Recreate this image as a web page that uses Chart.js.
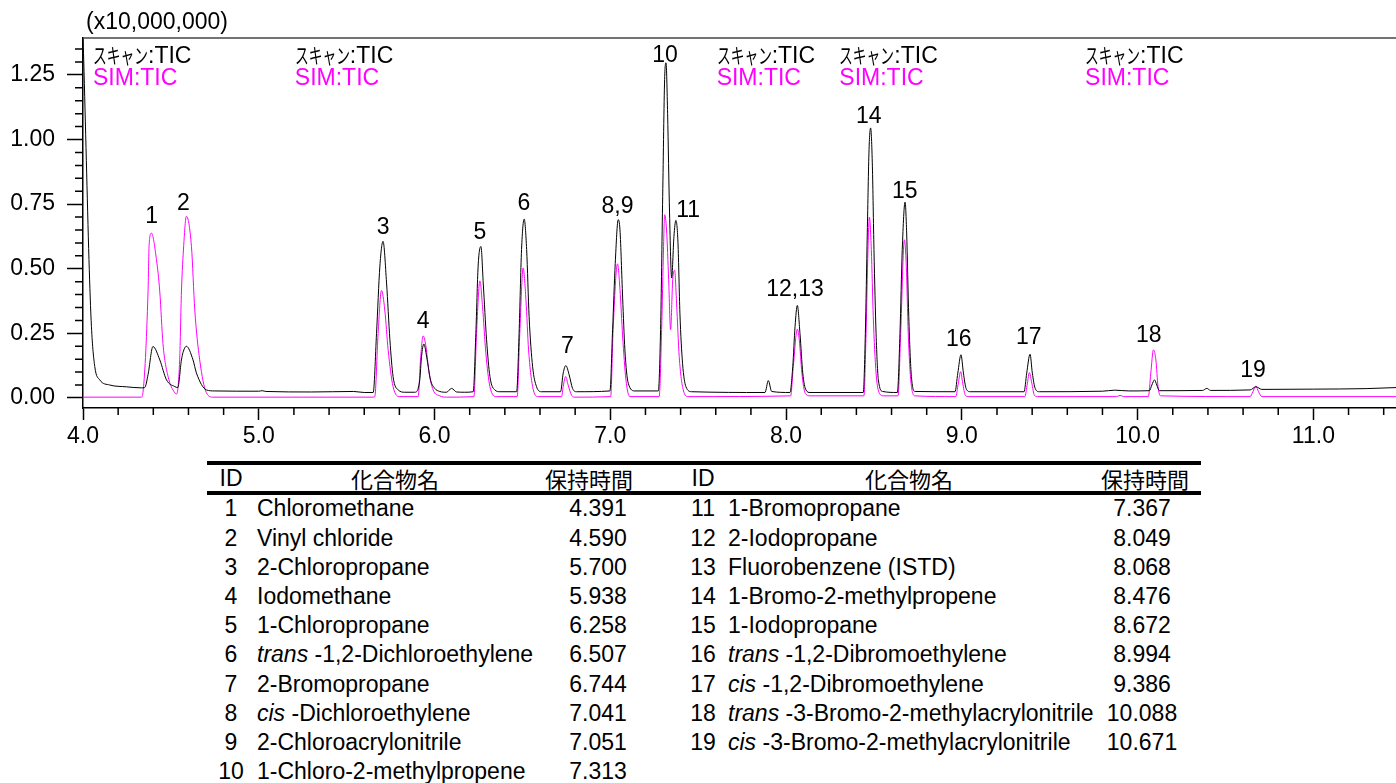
<!DOCTYPE html>
<html>
<head>
<meta charset="utf-8">
<script src="https://cdn.jsdelivr.net/npm/chart.js@4.4.1/dist/chart.umd.min.js"></script>
<style>
html,body{margin:0;padding:0;background:#fff;}
body{width:1396px;height:783px;position:relative;overflow:hidden;font-family:'Liberation Sans',Arial,'Noto Sans CJK JP',sans-serif;color:#000;}
#wrap{position:absolute;left:0;top:0;width:1396px;height:455px;}
.t{position:absolute;font-size:23px;line-height:1;white-space:nowrap;}
.cc{transform:translate(-50%,-50%);}
.lc{transform:translateY(-50%);}
.kana{display:inline-block;font-family:'Noto Sans CJK JP';font-size:21px;line-height:1;transform-origin:0 50%;}
.cjk{font-family:'Noto Sans CJK JP';font-size:22px;}
.rule{position:absolute;background:#000;}
.sim{color:#ff00ff;}
</style>
</head>
<body>
<div id="wrap"><canvas id="c" width="1396" height="455"></canvas></div>
<div id="overlay"></div>
<script>
// ---------------- data ----------------
// Scan TIC (black), time in min, intensity in x10,000,000
const scanTime = [4.000,4.004,4.019,4.034,4.048,4.067,4.095,4.152,4.247,4.332,4.351,4.370,4.398,4.437,4.475,4.522,4.539,4.560,4.569,4.588,4.626,4.645,4.702,4.750,5.000,5.020,5.040,5.300,5.540,5.600,
  5.651,5.670,5.689,5.707,5.727,5.746,5.764,5.793,5.831,5.888,5.916,5.926,5.939,5.958,5.977,6.001,6.030,6.068,6.097,6.125,6.172,
  6.220,6.235,6.248,6.264,6.277,6.296,6.315,6.343,6.372,6.467,6.481,6.495,6.510,6.524,6.538,6.558,6.580,6.609,
  6.717,6.732,6.747,6.766,6.785,6.808,6.998,7.013,7.028,7.045,7.055,7.070,7.083,7.102,7.140,
  7.273,7.286,7.298,7.309,7.317,7.326,7.337,7.349,7.362,7.373,7.385,7.396,7.411,7.430,7.463,
  7.880,7.899,7.918,8.022,8.038,8.051,8.064,8.079,8.095,8.113,8.136,
  8.439,8.451,8.462,8.472,8.481,8.491,8.500,8.512,8.525,8.550,8.633,8.648,8.661,8.677,8.686,8.698,8.713,8.734,
  8.961,8.977,8.995,9.009,9.024,9.047,9.354,9.369,9.388,9.401,9.417,9.441,9.800,9.870,9.950,
  10.067,10.081,10.096,10.109,10.124,10.370,10.394,10.415,10.640,10.673,10.707,11.000,11.300,11.470];
const scanValue = [1.40,1.31,0.92,0.535,0.276,0.121,0.070,0.050,0.043,0.039,0.040,0.090,0.199,0.147,0.070,0.044,0.040,0.147,0.176,0.200,0.147,0.097,0.031,0.027,0.026,0.028,0.025,0.023,0.025,0.021,
  0.021,0.250,0.510,0.606,0.445,0.225,0.083,0.031,0.022,0.022,0.070,0.160,0.209,0.147,0.070,0.037,0.025,0.022,0.037,0.023,0.022,
  0.024,0.250,0.510,0.586,0.445,0.225,0.083,0.031,0.024,0.024,0.250,0.574,0.692,0.574,0.315,0.121,0.044,0.024,
  0.024,0.096,0.125,0.089,0.037,0.024,0.027,0.264,0.520,0.690,0.650,0.390,0.186,0.057,0.027,
  0.027,0.264,0.780,1.233,1.297,1.100,0.716,0.464,0.625,0.687,0.600,0.328,0.134,0.044,0.024,
  0.021,0.067,0.025,0.021,0.121,0.276,0.358,0.250,0.096,0.031,0.021,
  0.021,0.250,0.638,0.961,1.045,0.897,0.574,0.250,0.070,0.025,0.021,0.250,0.574,0.758,0.638,0.315,0.083,0.025,
  0.024,0.096,0.167,0.096,0.037,0.024,0.024,0.096,0.169,0.096,0.037,0.024,0.026,0.030,0.027,
  0.028,0.050,0.070,0.050,0.028,0.029,0.037,0.029,0.031,0.043,0.033,0.034,0.036,0.040];

// SIM TIC (magenta)
const simTime = [4.000,4.332,4.341,4.370,4.376,4.389,4.418,4.437,4.455,4.484,4.522,4.532,4.550,4.560,4.573,4.588,4.617,4.636,4.664,4.702,4.740,
  5.650,5.660,5.679,5.698,5.717,5.736,5.764,5.803,5.907,5.920,5.935,5.951,5.969,5.992,6.030,6.068,
  6.224,6.239,6.258,6.273,6.292,6.315,6.353,6.470,6.485,6.504,6.520,6.535,6.558,6.590,
  6.723,6.732,6.746,6.760,6.780,6.799,7.002,7.016,7.041,7.055,7.070,7.089,7.111,
  7.278,7.292,7.303,7.309,7.320,7.332,7.343,7.355,7.366,7.377,7.392,7.415,7.443,
  8.026,8.041,8.064,8.075,8.090,8.109,8.136,8.443,8.455,8.466,8.474,8.485,8.496,8.512,8.531,8.553,
  8.637,8.652,8.673,8.684,8.695,8.711,8.734,8.965,8.980,8.993,9.005,9.020,9.040,9.358,9.373,9.384,9.398,9.413,9.430,
  9.880,9.900,9.920,10.061,10.075,10.090,10.104,10.116,10.131,10.640,10.656,10.673,10.688,10.707,11.470];
const simValue = [0.003,0.003,0.020,0.410,0.590,0.638,0.535,0.410,0.210,0.083,0.020,0.015,0.147,0.410,0.590,0.703,0.586,0.340,0.147,0.020,0.003,
  0.003,0.005,0.250,0.416,0.340,0.186,0.044,0.005,0.005,0.147,0.240,0.200,0.097,0.031,0.008,0.003,
  0.005,0.250,0.453,0.354,0.173,0.044,0.005,0.005,0.250,0.503,0.380,0.186,0.044,0.005,
  0.005,0.044,0.083,0.050,0.010,0.003,0.005,0.264,0.519,0.420,0.240,0.070,0.005,
  0.005,0.264,0.586,0.709,0.650,0.457,0.264,0.457,0.494,0.367,0.160,0.031,0.005,
  0.008,0.121,0.266,0.225,0.096,0.018,0.008,0.008,0.250,0.574,0.700,0.574,0.315,0.096,0.018,0.008,
  0.008,0.250,0.612,0.510,0.250,0.057,0.008,0.005,0.057,0.102,0.057,0.010,0.005,0.005,0.057,0.098,0.057,0.010,0.005,
  0.005,0.010,0.005,0.005,0.096,0.186,0.147,0.044,0.008,0.005,0.024,0.046,0.024,0.005,0.005];

// Peak labels (anchored in data units)
const peakLabelText  = ['1','2','3','4','5','6','7','8,9','10','11','12,13','14','15','16','17','18','19'];
const peakLabelTime  = [4.391,4.571,5.707,5.935,6.258,6.509,6.756,7.041,7.311,7.443,8.051,8.470,8.675,8.982,9.381,10.064,10.657];
const peakLabelValue = [0.709,0.757,0.667,0.300,0.645,0.760,0.205,0.748,1.331,0.732,0.425,1.094,0.804,0.231,0.241,0.249,0.112];

// Acquisition segment labels
const segmentTime = [4.057,5.205,7.605,8.303,9.701];
const scanLabel = 'スキャン';
const scanSuffix = ':TIC';
const simLabel = 'SIM:TIC';
const yUnitLabel = '(x10,000,000)';

// Axis
const xMin = 4.0, xMax = 11.47, xStep = 0.2, xMajor = 1.0;
const yMin = -0.039, yMax = 1.393, yStep = 0.05, yMajor = 0.25;

// Table
const tableHeader = ['ID','化合物名','保持時間'];
const compoundId = [1,2,3,4,5,6,7,8,9,10,11,12,13,14,15,16,17,18,19];
const compoundName = ['Chloromethane','Vinyl chloride','2-Chloropropane','Iodomethane','1-Chloropropane',
  'trans-1,2-Dichloroethylene','2-Bromopropane','cis-Dichloroethylene','2-Chloroacrylonitrile','1-Chloro-2-methylpropene',
  '1-Bromopropane','2-Iodopropane','Fluorobenzene (ISTD)','1-Bromo-2-methylpropene','1-Iodopropane',
  'trans-1,2-Dibromoethylene','cis-1,2-Dibromoethylene','trans-3-Bromo-2-methylacrylonitrile','cis-3-Bromo-2-methylacrylonitrile'];
const retentionTime = ['4.391','4.590','5.700','5.938','6.258','6.507','6.744','7.041','7.051','7.313',
  '7.367','8.049','8.068','8.476','8.672','8.994','9.386','10.088','10.671'];

// ---------------- chart ----------------
const isMajorX = v => Math.abs(v/xMajor - Math.round(v/xMajor)) < 1e-6;
const isMajorY = v => Math.abs(v/yMajor - Math.round(v/yMajor)) < 1e-6;

const minorTicks = {
  id:'minorTicks',
  afterDraw(chart){
    const ctx = chart.ctx, xs = chart.scales.x, ys = chart.scales.y, a = chart.chartArea;
    ctx.save();
    ctx.strokeStyle = '#000'; ctx.lineWidth = 1.5;
    ctx.beginPath();
    xs.ticks.forEach(t => { if(!isMajorX(t.value)){ const p = xs.getPixelForValue(t.value); ctx.moveTo(p,a.bottom); ctx.lineTo(p,a.bottom+7);} });
    ys.ticks.forEach(t => { if(!isMajorY(t.value)){ const p = ys.getPixelForValue(t.value); ctx.moveTo(a.left,p); ctx.lineTo(a.left-8,p);} });
    ctx.stroke();
    ctx.strokeStyle = '#444'; ctx.lineWidth = 1.5;
    ctx.beginPath(); ctx.moveTo(a.left, a.top); ctx.lineTo(a.right, a.top); ctx.stroke();
    ctx.restore();
  }
};

const toXY = (ts, vs) => ts.map((t,i) => ({x:t, y:vs[i]}));

const chart = new Chart(document.getElementById('c'), {
  type:'line',
  data:{datasets:[
    {label:'Scan TIC', data:toXY(scanTime, scanValue), borderColor:'#000', borderWidth:1, order:0},
    {label:'SIM TIC', data:toXY(simTime, simValue), borderColor:'#ff00ff', borderWidth:1, order:1}
  ]},
  options:{
    responsive:false, animation:false, events:[],
    layout:{padding:{top:38,left:0,right:0,bottom:0}},
    plugins:{legend:{display:false}, tooltip:{enabled:false}},
    elements:{point:{radius:0}, line:{cubicInterpolationMode:'monotone'}},
    scales:{
      x:{type:'linear', min:xMin, max:xMax,
        afterFit(s){ s.height = 455-408; },
        border:{color:'#000', width:1.5},
        grid:{drawOnChartArea:false, tickLength:12, tickWidth:1.5,
          tickColor: c => isMajorX(c.tick.value) ? '#000' : 'rgba(0,0,0,0)'},
        ticks:{stepSize:xStep, includeBounds:false, autoSkip:false, maxRotation:0, padding:3, color:'#000',
          font:{family:"'Liberation Sans', Arial, sans-serif", size:23},
          callback: v => isMajorX(v) ? Number(v).toFixed(1) : ''}
      },
      y:{type:'linear', min:yMin, max:yMax,
        afterFit(s){ s.width = 83; },
        border:{color:'#000', width:1.5},
        grid:{drawOnChartArea:false, tickLength:16, tickWidth:1.5,
          tickColor: c => isMajorY(c.tick.value) ? '#000' : 'rgba(0,0,0,0)'},
        ticks:{stepSize:yStep, includeBounds:false, autoSkip:false, padding:12, color:'#000',
          font:{family:"'Liberation Sans', Arial, sans-serif", size:23},
          callback: v => isMajorY(v) ? Number(v).toFixed(2) : ''}
      }
    }
  },
  plugins:[minorTicks]
});

// ---------------- overlays ----------------
const ov = document.getElementById('overlay');
function addDiv(cls, html, left, top){
  const d = document.createElement('div');
  d.className = 't ' + cls; d.innerHTML = html;
  d.style.left = left + 'px'; d.style.top = top + 'px';
  ov.appendChild(d); return d;
}
const xs = chart.scales.x, ys = chart.scales.y, area = chart.chartArea;
addDiv('lc', yUnitLabel, 86, 21);
peakLabelText.forEach((s,i) => addDiv('cc', s, xs.getPixelForValue(peakLabelTime[i]), ys.getPixelForValue(peakLabelValue[i])));
const kanaWidth = 55;
segmentTime.forEach(t => {
  const px = xs.getPixelForValue(t);
  const d = addDiv('lc', '<span class="kana">' + scanLabel + '</span>' + scanSuffix, px, area.top + 17);
  const k = d.querySelector('.kana');
  const w = k.getBoundingClientRect().width;
  k.style.transform = 'scaleX(' + (kanaWidth / w) + ')';
  k.style.marginRight = (kanaWidth - w) + 'px';
  addDiv('lc sim', simLabel, px, area.top + 39);
});

// Table
const rule = (l,t,w,h) => { const d=document.createElement('div'); d.className='rule'; Object.assign(d.style,{left:l+'px',top:t+'px',width:w+'px',height:h+'px'}); ov.appendChild(d); };
rule(207, 461, 994, 4);
rule(207, 491, 994, 4);
const cols = [{id:231, name:257, nameHead:395, rt:598, rtHead:589}, {id:703, name:728, nameHead:909, rt:1142, rtHead:1145}];
const headY = 478, rowY0 = 508.3, rowDY = 29.2;
cols.forEach(c => {
  addDiv('cc', tableHeader[0], c.id, headY);
  addDiv('cc cjk', tableHeader[1], c.nameHead, headY);
  addDiv('cc cjk', tableHeader[2], c.rtHead, headY);
});
const fmtName = n => { const m = n.match(/^(trans|cis)-(.*)$/); return m ? '<i>' + m[1] + '</i> -' + m[2] : n; };
compoundId.forEach((id,i) => {
  const c = i < 10 ? cols[0] : cols[1];
  const r = i < 10 ? i : i - 10;
  const y = rowY0 + r*rowDY;
  addDiv('cc', String(id), c.id, y);
  addDiv('lc', fmtName(compoundName[i]), c.name, y);
  addDiv('cc', retentionTime[i], c.rt, y);
});
</script>
</body>
</html>
